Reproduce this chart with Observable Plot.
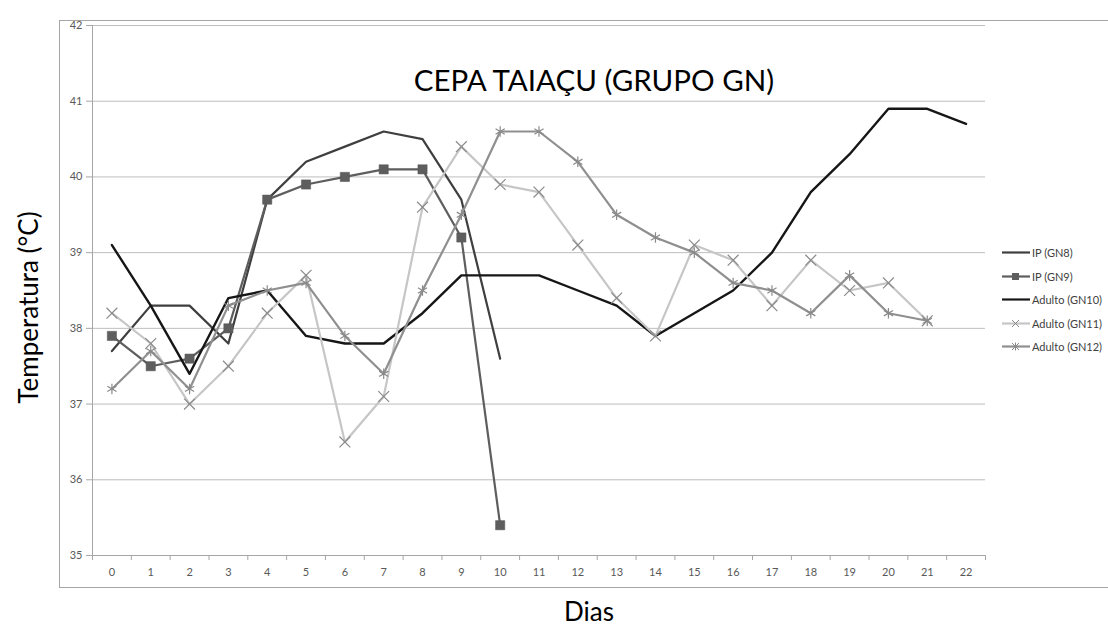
<!DOCTYPE html>
<html>
<head>
<meta charset="utf-8">
<script src="https://cdn.jsdelivr.net/npm/d3@7"></script>
<script src="https://cdn.jsdelivr.net/npm/@observablehq/plot@0.6"></script>
<style>
  html, body { margin: 0; padding: 0; background: #fff; }
  #wrap { position: relative; width: 1108px; height: 628px; overflow: hidden; font-family: Lato, "Open Sans", sans-serif; }
  #frame { position: absolute; left: 59px; top: 20px; width: 1060px; height: 568px; border: 1px solid #a6a6a6; box-sizing: border-box; }
  #legend { position: absolute; left: 1002px; top: 241px; font-size: 11px; color: #404040; }
  #legend .row { display: flex; align-items: center; height: 23.5px; }
  #legend svg { margin-right: 2px; }
  #chart { position: absolute; left: 0; top: 0; }
</style>
</head>
<body>
<div id="wrap">
  <div id="frame"></div>
  <div id="chart"></div>
  <div id="legend"></div>
</div>
<script>
// ---- data ----
const days = d3.range(0, 23);
const seriesNames = ["IP (GN8)", "IP (GN9)", "Adulto (GN10)", "Adulto (GN11)", "Adulto (GN12)"];
const gn8  = [37.7, 38.3, 38.3, 37.8, 39.7, 40.2, 40.4, 40.6, 40.5, 39.7, 37.6];
const gn9  = [37.9, 37.5, 37.6, 38.0, 39.7, 39.9, 40.0, 40.1, 40.1, 39.2, 35.4];
const gn10 = [39.1, 38.3, 37.4, 38.4, 38.5, 37.9, 37.8, 37.8, 38.2, 38.7, 38.7, 38.7, 38.5, 38.3, 37.9, 38.2, 38.5, 39.0, 39.8, 40.3, 40.9, 40.9, 40.7];
const gn11 = [38.2, 37.8, 37.0, 37.5, 38.2, 38.7, 36.5, 37.1, 39.6, 40.4, 39.9, 39.8, 39.1, 38.4, 37.9, 39.1, 38.9, 38.3, 38.9, 38.5, 38.6, 38.1];
const gn12 = [37.2, 37.7, 37.2, 38.3, 38.5, 38.6, 37.9, 37.4, 38.5, 39.5, 40.6, 40.6, 40.2, 39.5, 39.2, 39.0, 38.6, 38.5, 38.2, 38.7, 38.2, 38.1];
const yTicks = [35, 36, 37, 38, 39, 40, 41, 42];
const title = "CEPA TAIAÇU (GRUPO GN)";
const yLabel = "Temperatura (°C)";
const xLabel = "Dias";

const seriesValues = [gn8, gn9, gn10, gn11, gn12];
const colors = ["#3f3f3f", "#5e5e5e", "#161616", "#c6c6c6", "#8f8f8f"];
const symbols = [null, "square", null, "times", "asterisk"];

const rows = [];
seriesNames.forEach((s, i) => seriesValues[i].forEach((v, d) => rows.push({series: s, day: days[d], temp: v})));

const marks = [
  Plot.gridY(yTicks, {stroke: "#bdbdbd", strokeOpacity: 1, strokeWidth: 1}),
  Plot.ruleX([-0.5], {stroke: "#a6a6a6"}),
  Plot.ruleY([35], {stroke: "#a6a6a6"}),
  Plot.axisY(yTicks, {tickSize: 6, tickPadding: 4, stroke: "#a6a6a6", fill: "#595959", fontSize: 11, tickFormat: d3.format("d"), label: null}),
  Plot.axisX(days, {tickSize: 0, tickPadding: 13, fill: "#595959", fontSize: 11, tickFormat: d3.format("d"), label: null}),
  Plot.axisX(d3.range(-0.5, 23, 1), {tickSize: 5, stroke: "#a6a6a6", tickFormat: () => "", label: null}),
];
seriesNames.forEach((s, i) => {
  const data = rows.filter(r => r.series === s);
  marks.push(Plot.line(data, {x: "day", y: "temp", stroke: colors[i], strokeWidth: i === 2 ? 2.4 : 2.2, curve: "linear"}));
});
seriesNames.forEach((s, i) => {
  if (!symbols[i]) return;
  const data = rows.filter(r => r.series === s);
  if (symbols[i] === "square") {
    marks.push(Plot.dot(data, {x: "day", y: "temp", symbol: "square", r: 5.2, fill: colors[i], stroke: "#555", strokeWidth: 0.5}));
  } else {
    marks.push(Plot.dot(data, {x: "day", y: "temp", symbol: symbols[i], r: 5, stroke: "#8a8a8a", strokeWidth: 1.2}));
  }
});
marks.push(Plot.text([title], {frameAnchor: "top", dx: 55, dy: 45, fontSize: 29.5, fill: "#000"}));
marks.push(Plot.text([yLabel], {frameAnchor: "left", textAnchor: "middle", rotate: -90, dx: -63, dy: 17, fontSize: 26, fill: "#000"}));
marks.push(Plot.text([xLabel], {frameAnchor: "bottom", dx: 50, dy: 65, fontSize: 26, fill: "#000"}));

const chart = Plot.plot({
  width: 1108,
  height: 628,
  marginLeft: 92,
  marginRight: 123,
  marginTop: 25,
  marginBottom: 73,
  style: {fontFamily: "Lato, 'Open Sans', sans-serif", background: "transparent", overflow: "visible"},
  x: {type: "linear", domain: [-0.5, 22.5], axis: null},
  y: {domain: [35, 42], axis: null},
  marks
});
document.getElementById("chart").appendChild(chart);

// legend
const leg = document.getElementById("legend");
seriesNames.forEach((s, i) => {
  const row = document.createElement("div");
  row.className = "row";
  const sym = symbols[i];
  let m = "";
  if (sym === "square") m = `<rect x="10" y="2" width="7" height="7" fill="${colors[i]}"/>`;
  else if (sym === "times") m = `<path d="M10,2L17,9M17,2L10,9" stroke="#8a8a8a" stroke-width="1"/>`;
  else if (sym === "asterisk") m = `<path d="M10,2L17,9M17,2L10,9M13.5,1.5V9.5" stroke="#8a8a8a" stroke-width="1"/>`;
  row.innerHTML = `<svg width="28" height="11"><line x1="0" x2="28" y1="5.5" y2="5.5" stroke="${colors[i]}" stroke-width="2.2"/>${m}</svg><span>${s}</span>`;
  leg.appendChild(row);
});
</script>
</body>
</html>
